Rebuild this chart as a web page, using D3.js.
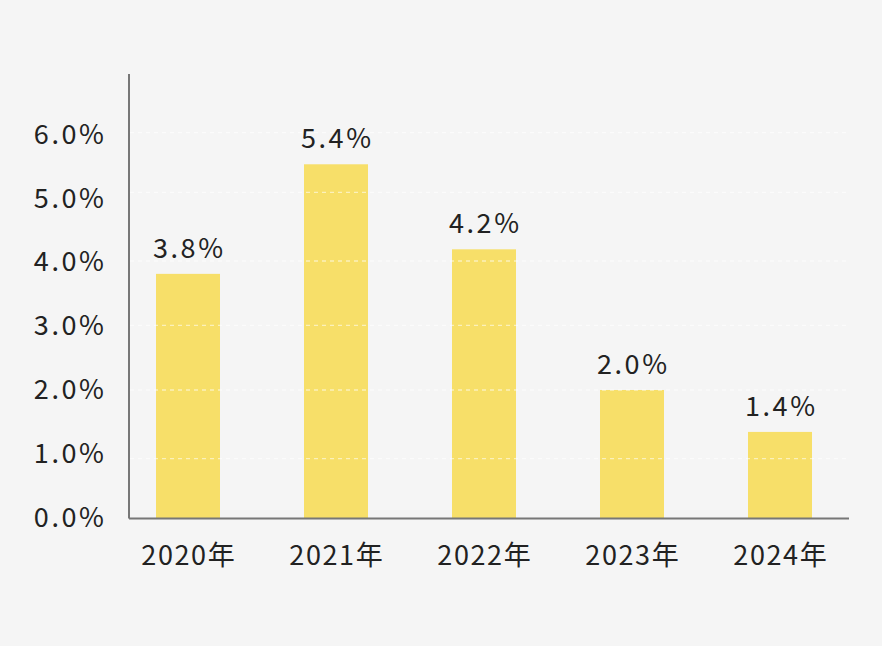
<!DOCTYPE html>
<html>
<head>
<meta charset="utf-8">
<script src="https://cdn.jsdelivr.net/npm/d3@7"></script>
<style>
  html, body { margin: 0; padding: 0; background: #f5f5f5; }
  svg { display: block; }
  text { font-family: "Noto Sans CJK JP", "Noto Sans", sans-serif; font-weight: 400; fill: #222; }
</style>
</head>
<body>
<svg id="chart" width="882" height="646"></svg>
<script>
const categories = ["2020年", "2021年", "2022年", "2023年", "2024年"];
// bar heights as measured in the picture
const values = [3.8, 5.47, 4.17, 2.0, 1.39];
const valueLabels = ["3.8%", "5.4%", "4.2%", "2.0%", "1.4%"];
const tickValues = [0, 1, 2, 3, 4, 5, 6];
const tickLabels = ["0.0%", "1.0%", "2.0%", "3.0%", "4.0%", "5.0%", "6.0%"];

const svg = d3.select("#chart");
svg.append("rect").attr("width", 882).attr("height", 646).attr("fill", "#f5f5f5");

const axisX0 = 129, axisX1 = 849, axisY0 = 518.5, axisTop = 74;

// value scale (gridlines and bars follow the reference's uneven spacing)
const y = d3.scaleLinear()
  .domain([0, 1, 2, 3, 4, 5, 6])
  .range([518.5, 458.7, 390, 325.3, 261, 192.3, 132.7]);
// tick label positions (evenly spaced in the reference)
const yLabel = d3.scaleLinear().domain([0, 6]).range([517, 134]);

const x = d3.scaleBand().domain(categories).range([114, 854]).paddingInner(0).paddingOuter(0);
const barW = 64;
const fs = 27;

// bars
svg.append("g").selectAll("rect").data(values).join("rect")
  .attr("x", (d, i) => x(categories[i]) + (x.bandwidth() - barW) / 2)
  .attr("y", d => y(d))
  .attr("width", barW)
  .attr("height", d => y(0) - y(d))
  .attr("fill", "#f7df69");

// gridlines (over bars)
svg.append("g").selectAll("line").data(tickValues.filter(v => v > 0)).join("line")
  .attr("x1", axisX0 + 1).attr("x2", axisX1)
  .attr("y1", d => y(d)).attr("y2", d => y(d))
  .attr("stroke", "#ffffff").attr("stroke-opacity", 0.55)
  .attr("stroke-width", 1.3).attr("stroke-dasharray", "4,4");

// axes lines
svg.append("line").attr("x1", axisX0).attr("x2", axisX0).attr("y1", axisTop).attr("y2", axisY0)
  .attr("stroke", "#777").attr("stroke-width", 2);
svg.append("line").attr("x1", axisX0).attr("x2", axisX1).attr("y1", axisY0).attr("y2", axisY0)
  .attr("stroke", "#777").attr("stroke-width", 2);

// y tick labels
svg.append("g").selectAll("text").data(tickValues).join("text")
  .attr("x", 104 + 2.6)
  .attr("y", d => yLabel(d))
  .attr("dy", "0.36em")
  .attr("text-anchor", "end")
  .attr("font-size", fs)
  .attr("letter-spacing", "2.6px")
  .text((d, i) => tickLabels[i]);

// x labels
svg.append("g").selectAll("text").data(categories).join("text")
  .attr("x", d => x(d) + x.bandwidth() / 2 + 0.8)
  .attr("y", 565)
  .attr("text-anchor", "middle")
  .attr("font-size", fs)
  .attr("letter-spacing", "1.6px")
  .text(d => d);

// value labels
svg.append("g").selectAll("text").data(values).join("text")
  .attr("x", (d, i) => x(categories[i]) + x.bandwidth() / 2 + 1.3)
  .attr("y", d => y(d) - 16)
  .attr("text-anchor", "middle")
  .attr("font-size", fs)
  .attr("letter-spacing", "2.6px")
  .text((d, i) => valueLabels[i]);
</script>
</body>
</html>
